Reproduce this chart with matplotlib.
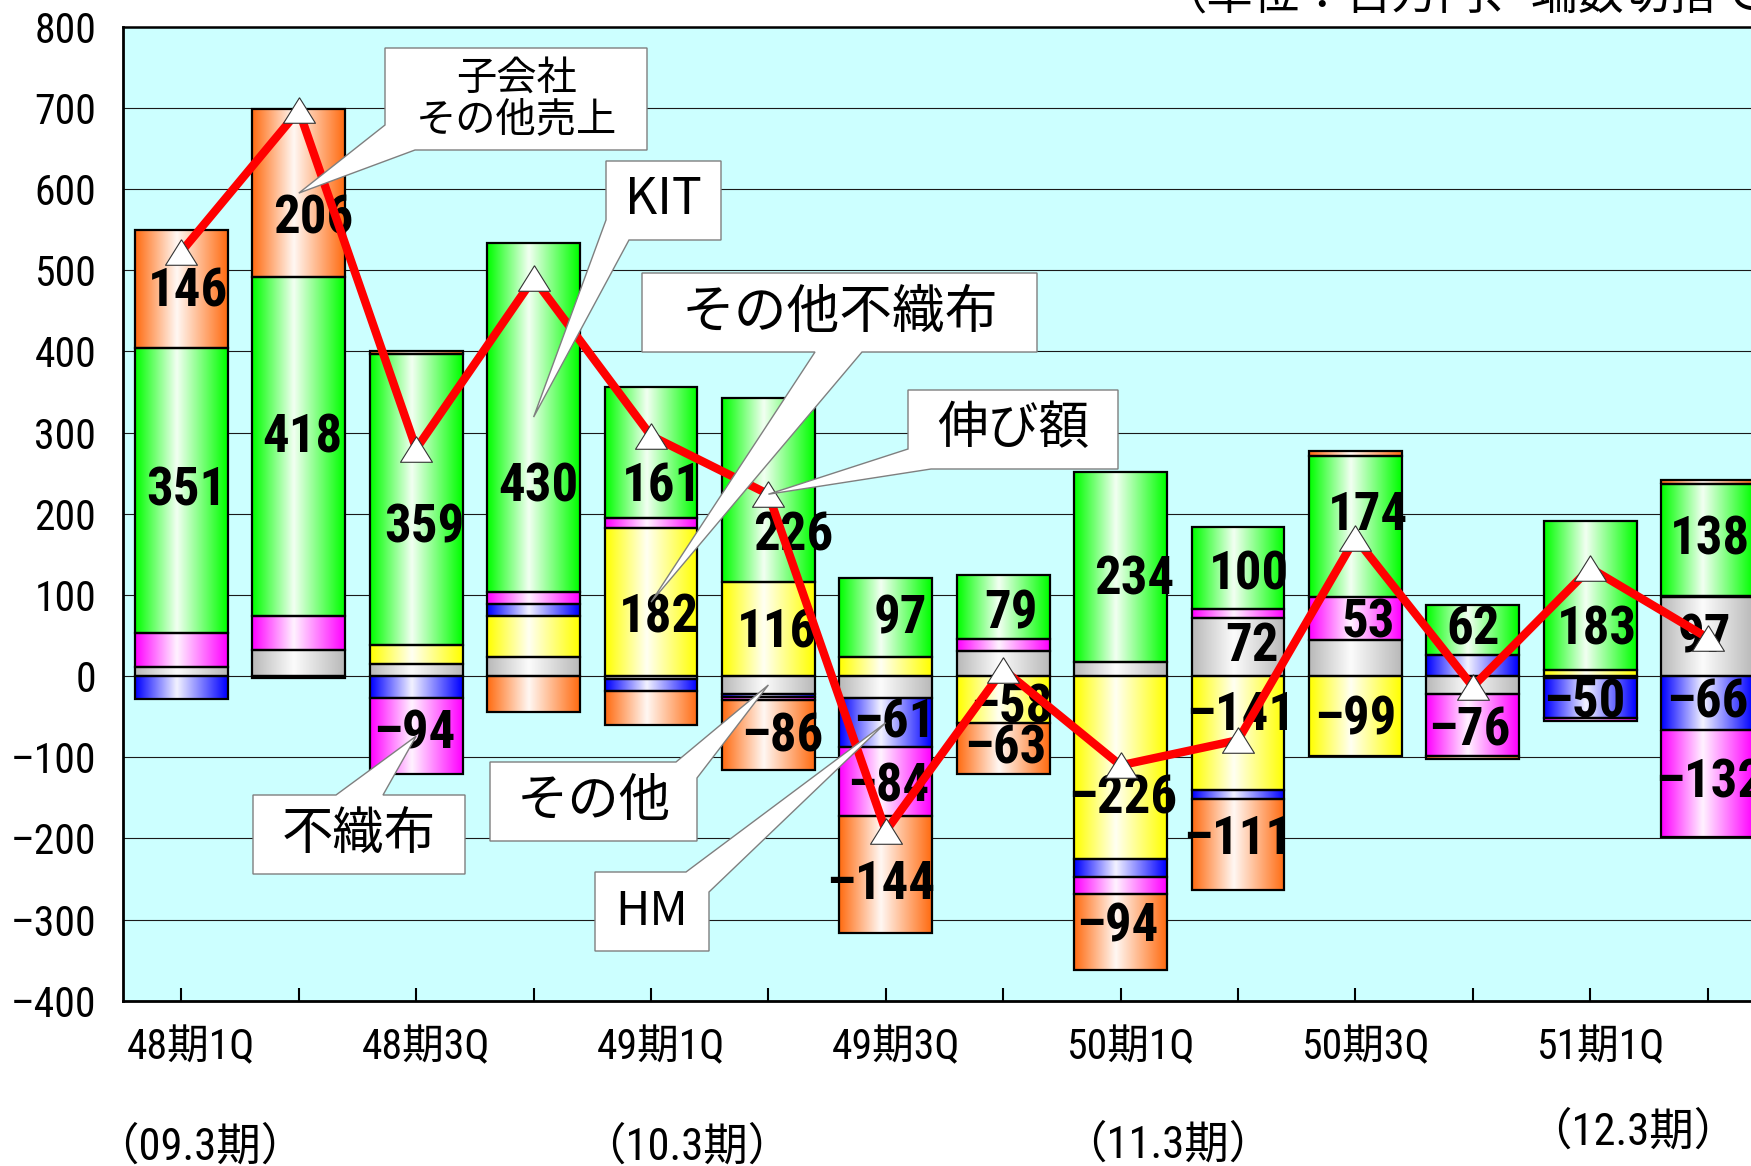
import numpy as np
import matplotlib
matplotlib.use('Agg')
import matplotlib.pyplot as plt
from matplotlib import font_manager
from matplotlib.patches import Polygon
from matplotlib.transforms import ScaledTranslation

names = {f.name for f in font_manager.fontManager.ttflist}
NARROW = 'Roboto Condensed' if 'Roboto Condensed' in names else 'DejaVu Sans'
JP = 'Noto Sans CJK JP'
DASH = '\u2013'

# dados (百万円)
quarters = ['48期1Q', '48期2Q', '48期3Q', '48期4Q', '49期1Q', '49期2Q', '49期3Q',
            '49期4Q', '50期1Q', '50期2Q', '50期3Q', '50期4Q', '51期1Q', '51期2Q']
tick_labels = ['48期1Q', '', '48期3Q', '', '49期1Q', '', '49期3Q', '',
               '50期1Q', '', '50期3Q', '', '51期1Q', '']
fiscal_labels = ['（09.3期）', '（10.3期）', '（11.3期）', '（12.3期）']

sonota = [11, 32, 15, 23, -4, -22, -27, 31, 17, 72, 44, -22, -2, 97]
sonota_fushokufu = [0, 0, 23, 51, 182, 116, 24, -58, -226, -141, -99, 0, 8, 2]
hm = [-28, -2, -27, 15, -14, -4, -61, 0, -21, -11, 0, 26, -50, -66]
fushokufu = [42, 42, -94, 15, 13, -4, -84, 15, -21, 11, 53, -76, -4, -132]
kit = [351, 418, 359, 430, 161, 226, 97, 79, 234, 100, 174, 62, 183, 138]
kogaisha = [146, 206, 3, -44, -42, -86, -144, -63, -94, -111, 6, -4, 0, 5]
nobi = [523, 697, 280, 490, 296, 224, -191, 8, -110, -79, 170, -13, 133, 47]

series = {'sonota': sonota, 'sonota_fushokufu': sonota_fushokufu, 'hm': hm,
          'fushokufu': fushokufu, 'kit': kit, 'kogaisha': kogaisha}
colors = {'sonota': (185, 185, 185), 'sonota_fushokufu': (255, 255, 0),
          'hm': (0, 0, 255), 'fushokufu': (255, 0, 255),
          'kit': (0, 255, 0), 'kogaisha': (255, 108, 18)}

# rótulos mostrados: (série, barra, dx, dy)
shown = [('kogaisha', 0, 0.06, -4), ('kit', 0, 0.04, 0),
         ('kogaisha', 1, 0.12, -32), ('kit', 1, 0.03, 10),
         ('kit', 2, 0.07, -35), ('fushokufu', 2, -0.02, 3),
         ('kit', 3, 0.04, -86),
         ('kit', 4, 0.09, -42), ('sonota_fushokufu', 4, 0.07, -20),
         ('kit', 5, 0.21, -56), ('sonota_fushokufu', 5, 0.07, -5), ('kogaisha', 5, 0.12, -2),
         ('kit', 6, 0.12, -2), ('hm', 6, 0.07, 0), ('fushokufu', 6, 0.02, -7),
         ('kogaisha', 6, -0.04, -13),
         ('kit', 7, 0.07, -9), ('sonota_fushokufu', 7, 0.07, -10), ('kogaisha', 7, 0.02, -1),
         ('kit', 8, 0.12, -16), ('sonota_fushokufu', 8, 0.02, -38), ('kogaisha', 8, -0.03, 6),
         ('kit', 9, 0.09, -8), ('sonota', 9, 0.12, 0), ('sonota_fushokufu', 9, 0.02, 22),
         ('kogaisha', 9, 0.0, 6),
         ('kit', 10, 0.11, 14), ('fushokufu', 10, 0.11, -5), ('sonota_fushokufu', 10, 0.0, -5),
         ('kit', 11, 0.0, 0), ('fushokufu', 11, -0.03, -8),
         ('kit', 12, 0.06, -43), ('hm', 12, -0.05, -6),
         ('kit', 13, 0.02, 0), ('sonota', 13, -0.03, -2), ('hm', 13, 0.0, 0),
         ('fushokufu', 13, 0.02, 0)]

W, H = 1751, 1166
fig = plt.figure(figsize=(W / 100, H / 100), dpi=100)
ax = fig.add_axes([122.7 / W, 1 - 1000.7 / H, 1643.6 / W, 974 / H])
ax.set_facecolor('#CCFFFF')

x = np.arange(len(quarters))
pos = np.zeros(len(x))
neg = np.zeros(len(x))
centers = {}


def gradient(rgb, n=80, c=0.45, strength=0.95):
    t = np.linspace(0, 1, n)
    d = np.where(t < c, (c - t) / c, (t - c) / (1 - c))
    mix = strength * (1 - d)
    col = np.array(rgb) / 255.0
    img = col[None, :] * (1 - mix[:, None]) + mix[:, None]
    return img[None, :, :]


for key, vals in series.items():
    v = np.array(vals, dtype=float)
    bottom = np.where(v >= 0, pos, neg)
    bars = ax.bar(x, v, bottom=bottom, width=0.79, facecolor='none',
                  edgecolor='black', linewidth=1.6, zorder=3)
    img = gradient(colors[key])
    for p in bars.patches:
        h = p.get_height()
        if h == 0:
            p.set_visible(False)
            continue
        x0, y0, w = p.get_x(), p.get_y(), p.get_width()
        ax.imshow(img, extent=[x0, x0 + w, min(y0, y0 + h), max(y0, y0 + h)],
                  aspect='auto', interpolation='bilinear', zorder=2)
    centers[key] = bottom + v / 2
    pos = pos + np.where(v > 0, v, 0)
    neg = neg + np.where(v < 0, v, 0)

for key, i, dx, dy in shown:
    val = series[key][i]
    ax.text(x[i] + dx, centers[key][i] + dy, str(val).replace('-', DASH),
            ha='center', va='center', fontsize=38, fontweight='bold',
            family=[NARROW, JP], zorder=4)

tri = [(0, 0.8), (-1, -0.8), (1, -0.8), (0, 0.8)]
ax.plot(x, nobi, color='#FF0000', lw=6, marker=tri, ms=23, mfc='white',
        mec='#333333', mew=0.8, zorder=5)

ax.set_xlim(-0.5, 13.5)
ax.set_ylim(-400, 800)
yt = np.arange(-400, 801, 100)
ax.set_yticks(yt)
ax.set_yticklabels([str(v).replace('-', DASH) for v in yt], fontsize=30, family=NARROW)
ax.yaxis.grid(True, color='#1a1a1a', lw=0.8)
ax.set_axisbelow(True)
ax.tick_params(axis='y', length=0, pad=19)

ax.set_xticks(x)
ax.set_xticklabels(tick_labels, fontsize=30, family=[NARROW, JP])
ax.tick_params(axis='x', direction='in', length=9.5, width=1.5, pad=19)
off = ScaledTranslation(10 / 100, 0, fig.dpi_scale_trans)
for lab in ax.get_xticklabels():
    lab.set_transform(lab.get_transform() + off)

for s in ['left', 'bottom']:
    ax.spines[s].set_linewidth(2.0)
ax.spines['top'].set_linewidth(1.8)
ax.spines['right'].set_visible(False)

for txt, (px, py) in zip(fiscal_labels, [(200, 1147), (687, 1147), (1168, 1145), (1633, 1132)]):
    fig.text(px / W, 1 - py / H, txt, ha='center', va='center', fontsize=32,
             family=[NARROW, JP])

fig.text(1161 / W, 1 - 10 / H, '（単位：百万円、端数切捨て）', ha='left', va='baseline',
         fontsize=33.4, family=JP)


# balões de texto
def perim(p, box):
    x0, y0, x1, y1 = box
    bw, bh = x1 - x0, y1 - y0
    d = [abs(p[1] - y0), abs(p[0] - x1), abs(p[1] - y1), abs(p[0] - x0)]
    k = int(np.argmin(d))
    if k == 0:
        return p[0] - x0
    if k == 1:
        return bw + p[1] - y0
    if k == 2:
        return bw + bh + x1 - p[0]
    return 2 * bw + bh + y1 - p[1]


def callout(text, box, b1, b2, tip_data, size):
    x0, y0, x1, y1 = box
    disp = ax.transData.transform(tip_data)
    fx, fy = fig.transFigure.inverted().transform(disp)
    tip = (fx * W, (1 - fy) * H)
    t1, t2 = perim(b1, box), perim(b2, box)
    if t1 > t2:
        b1, b2, t1, t2 = b2, b1, t2, t1
    bw, bh = x1 - x0, y1 - y0
    corners = [(0, (x0, y0)), (bw, (x1, y0)), (bw + bh, (x1, y1)), (2 * bw + bh, (x0, y1))]
    pts = [(t, c) for t, c in corners if not (t1 < t < t2)]
    pts += [(t1, b1), (t1 + 1e-6, tip), (t2, b2)]
    pts.sort(key=lambda a: a[0])
    verts = [(px / W, 1 - py / H) for _, (px, py) in pts]
    poly = Polygon(verts, closed=True, transform=fig.transFigure, facecolor='white',
                   edgecolor='#7f7f7f', lw=1.0, zorder=10)
    fig.add_artist(poly)
    fig.text((x0 + x1) / 2 / W, 1 - (y0 + y1) / 2 / H, text, ha='center', va='center',
             fontsize=size, family=JP, zorder=11, linespacing=1.05)


callout('子会社\nその他売上', (385, 48, 647, 150), (385, 125), (415, 150),
        (x[1], centers['kogaisha'][1]), 29)
callout('KIT', (606, 161, 721, 240), (606, 220), (629, 240),
        (x[3], centers['kit'][3]), 36)
callout('その他不織布', (642, 273, 1037, 352), (815, 352), (862, 352),
        (x[4], centers['sonota_fushokufu'][4]), 38)
callout('伸び額', (908, 390, 1118, 469), (908, 449), (931, 469),
        (x[5], nobi[5]), 36.5)
callout('不織布', (253, 795, 465, 874), (336, 795), (383, 795),
        (x[2], centers['fushokufu'][2]), 37)
callout('その他', (490, 762, 697, 841), (676, 762), (697, 778),
        (x[5], centers['sonota'][5]), 37)
callout('HM', (595, 872, 709, 951), (686, 872), (709, 892),
        (x[6], centers['hm'][6]), 34)

fig.savefig('out.png', dpi=100)
